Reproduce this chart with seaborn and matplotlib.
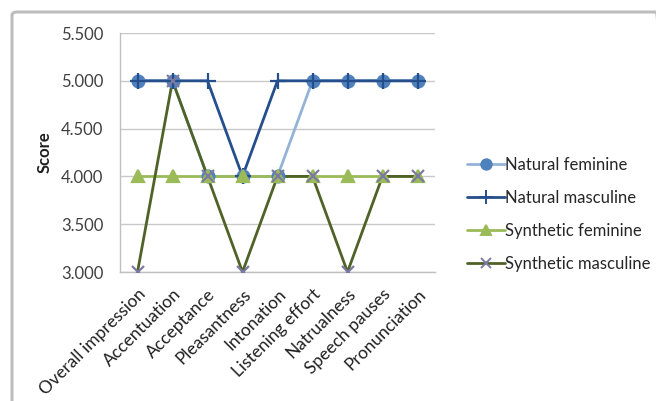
import matplotlib
matplotlib.use("Agg")
import matplotlib.pyplot as plt
from matplotlib.lines import Line2D
from matplotlib.patches import FancyBboxPatch
import seaborn as sns
import pandas as pd

categories = ["Overall impression", "Accentuation", "Acceptance", "Pleasantness",
              "Intonation", "Listening effort", "Natrualness", "Speech pauses",
              "Pronunciation"]
natural_feminine = [5, 5, 4, 4, 4, 5, 5, 5, 5]
natural_masculine = [5, 5, 5, 4, 5, 5, 5, 5, 5]
synthetic_feminine = [4, 4, 4, 4, 4, 4, 4, 4, 4]
synthetic_masculine = [3, 5, 4, 3, 4, 4, 3, 4, 4]
y_ticks = [3.0, 3.5, 4.0, 4.5, 5.0, 5.5]

series = [
    # name, values, line colour, marker, marker colour, marker size
    ("Natural feminine", natural_feminine, "#95B3D7", "o", "#4F81BD", 8.5),
    ("Natural masculine", natural_masculine, "#254E8C", "+", "#254E8C", 11),
    ("Synthetic feminine", synthetic_feminine, "#9BBB59", "^", "#9BBB59", 8),
    ("Synthetic masculine", synthetic_masculine, "#4F6228", "x", "#7C7AA0", 8),
]

sns.set_style("white")
plt.rcParams["font.family"] = ["Lato", "DejaVu Sans"]

fig = plt.figure(figsize=(6.56, 4.01), dpi=100)
ax = fig.add_axes([120 / 656, 1 - 272 / 401, 315 / 656, 239 / 401])

# chart frame (runs off the right and bottom edges)
frame = FancyBboxPatch((12 / 656, -0.1), 0.99, 1.1 - 12 / 401,
                       boxstyle="round,pad=0,rounding_size=0.008",
                       transform=fig.transFigure, facecolor="none",
                       edgecolor="#BDBDBD", linewidth=2.2, zorder=0)
fig.patches.append(frame)

# lines first, markers on top
for name, vals, lc, mk, mc, ms in series:
    df = pd.DataFrame({"category": categories, "score": vals})
    sns.lineplot(data=df, x="category", y="score", ax=ax, color=lc,
                 linewidth=2.0, sort=False, zorder=2)
for name, vals, lc, mk, mc, ms in series:
    df = pd.DataFrame({"category": categories, "score": vals})
    sns.lineplot(data=df, x="category", y="score", ax=ax, color=mc,
                 linestyle="", marker=mk, markersize=ms, markerfacecolor=mc,
                 markeredgecolor=mc, markeredgewidth=1.6, sort=False, zorder=3)

ax.set_xlim(-0.5, len(categories) - 0.5)
ax.set_ylim(3.0, 5.5)
ax.set_yticks(y_ticks)
ax.set_yticklabels([f"{t:.3f}" for t in y_ticks], fontsize=12, color="#404040")
ax.set_xticks(range(len(categories)))
ax.set_xticklabels(categories, rotation=45, ha="right", rotation_mode="anchor",
                   fontsize=12.5, color="#202020")
ax.tick_params(axis="y", length=0, pad=12)
ax.tick_params(axis="x", length=0, pad=10)
ax.set_xlabel("")
ax.set_ylabel("Score", fontsize=12, fontweight="bold", color="#202020", labelpad=6)
ax.grid(axis="y", color="#C8C8C8", linewidth=1.0)
ax.set_axisbelow(True)
for s in ["top", "right"]:
    ax.spines[s].set_visible(False)
for s in ["left", "bottom"]:
    ax.spines[s].set_color("#BFBFBF")
    ax.spines[s].set_linewidth(1.0)

handles = [Line2D([], [], color=lc, linewidth=2.0, marker=mk, markersize=ms - 1,
                  markerfacecolor=mc, markeredgecolor=mc, markeredgewidth=1.4)
           for name, vals, lc, mk, mc, ms in series]
labels = [s[0] for s in series]
fig.legend(handles, labels, loc="upper left", bbox_to_anchor=(460 / 656, 1 - 150 / 401),
           frameon=False, fontsize=12, handlelength=2.3, handletextpad=0.0,
           labelspacing=1.03, borderaxespad=0)

fig.savefig("out.png", dpi=100)
